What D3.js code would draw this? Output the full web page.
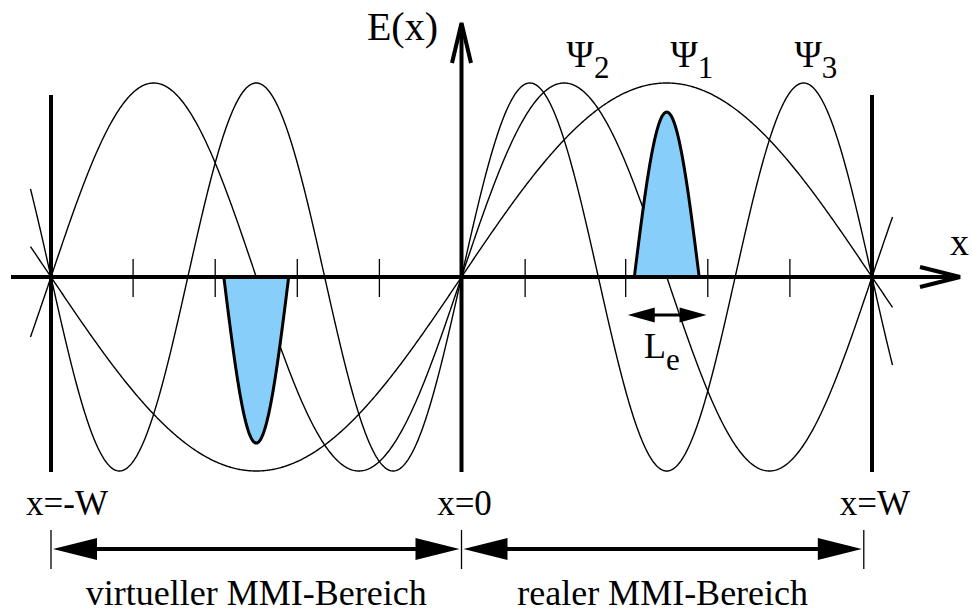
<!DOCTYPE html>
<html>
<head>
<meta charset="utf-8">
<script src="https://cdn.jsdelivr.net/npm/d3@7"></script>
<style>
  body { margin: 0; background: #fff; }
  svg { display: block; }
  text { font-family: "Liberation Serif", "Times New Roman", serif; fill: #000; }
</style>
</head>
<body>
<svg id="chart" width="972" height="612"></svg>
<script>
// mode orders of the field profiles Psi_n(x) = sin(n*pi*x/W), x in units of W
var modeOrders  = [2, 1, 3];
var modeLabels  = ["2", "1", "3"];
var modeLabelX  = [0.256, 0.509, 0.811];   // label start, units of W
var curveDomain = [-1.05, 1.05];            // curves run a bit past the walls

// tick marks on the x axis (units of W)
var axisTicks = [-0.8, -0.6, -0.4, -0.2, 0.155, 0.4, 0.6, 0.8];

// wall positions and their labels
var walls      = [-1, 0, 1];
var wallLabels = ["x=-W", "x=0", "x=W"];

// shaded self-image lobes: centre, half width, height
var lobeCentres = [-0.5, 0.5];
var lobeHeights = [-0.856, 0.85];
var lobeHalfW   = 0.079;

// effective length arrow
var leFrom = 0.405, leTo = 0.597, leY = -0.196;

// the two regions below the plot
var regionNames = ["virtueller MMI-Bereich", "realer MMI-Bereich"];
var regionFrom  = [-1, 0];
var regionTo    = [0, 0.98];

var svg = d3.select("#chart");

var x = d3.scaleLinear().domain([-1, 1]).range([51, 872]);
var y = d3.scaleLinear().domain([-1, 1]).range([471, 83]);

function tri(g, tipX, tipY, dir, len, half) {
  g.append("path")
    .attr("d", "M" + tipX + "," + tipY +
               "L" + (tipX - dir * len) + "," + (tipY - half) +
               "L" + (tipX - dir * len) + "," + (tipY + half) + "Z")
    .attr("fill", "#000");
}

// walls of the MMI section (thick verticals at -W and W)
svg.selectAll(".wall")
  .data([-1, 1])
  .enter().append("line")
    .attr("class", "wall")
    .attr("x1", function(d) { return x(d); })
    .attr("x2", function(d) { return x(d); })
    .attr("y1", 95)
    .attr("y2", 472)
    .attr("stroke", "#000")
    .attr("stroke-width", 4);

// mode curves
var line = d3.line()
    .x(function(d) { return x(d[0]); })
    .y(function(d) { return y(d[1]); })
    .curve(d3.curveLinear);

var samples = d3.range(curveDomain[0], curveDomain[1] + 1e-9, 0.0025);

svg.selectAll(".mode")
  .data(modeOrders)
  .enter().append("path")
    .attr("class", "mode")
    .attr("d", function(n) {
      return line(samples.map(function(t) { return [t, Math.sin(n * Math.PI * t)]; }));
    })
    .attr("fill", "none")
    .attr("stroke", "#000")
    .attr("stroke-width", 1.4);

// shaded lobes
svg.selectAll(".lobe")
  .data(lobeCentres)
  .enter().append("path")
    .attr("class", "lobe")
    .attr("d", function(c, i) {
      var pts = d3.range(-1, 1.0001, 0.02).map(function(u) {
        return [c + u * lobeHalfW, lobeHeights[i] * Math.cos(u * Math.PI / 2)];
      });
      return line(pts) + "Z";
    })
    .attr("fill", "#87cefa")
    .attr("stroke", "#000")
    .attr("stroke-width", 3)
    .attr("stroke-linejoin", "round");

// x axis
svg.append("line")
    .attr("x1", 11).attr("x2", 958)
    .attr("y1", y(0)).attr("y2", y(0))
    .attr("stroke", "#000").attr("stroke-width", 4);
svg.append("path")
    .attr("d", "M920," + (y(0) - 10) + "L960," + y(0) + "L920," + (y(0) + 10))
    .attr("fill", "none").attr("stroke", "#000").attr("stroke-width", 4);

svg.selectAll(".tick")
  .data(axisTicks)
  .enter().append("line")
    .attr("class", "tick")
    .attr("x1", function(d) { return x(d); })
    .attr("x2", function(d) { return x(d); })
    .attr("y1", y(0) - 18)
    .attr("y2", y(0) + 20)
    .attr("stroke", "#000").attr("stroke-width", 1.3);

// y axis
svg.append("line")
    .attr("x1", x(0)).attr("x2", x(0))
    .attr("y1", 25).attr("y2", 472)
    .attr("stroke", "#000").attr("stroke-width", 4);
svg.append("path")
    .attr("d", "M" + (x(0) - 9.5) + ",63L" + x(0) + ",23L" + (x(0) + 9.5) + ",63")
    .attr("fill", "none").attr("stroke", "#000").attr("stroke-width", 4);

svg.append("text")
    .attr("x", 438).attr("y", 40)
    .attr("text-anchor", "end")
    .style("font-size", "40px")
    .text("E(x)");

svg.append("text")
    .attr("x", 950).attr("y", 255)
    .style("font-size", "38px")
    .text("x");

// mode labels
var ml = svg.selectAll(".mlabel")
  .data(modeLabels)
  .enter().append("text")
    .attr("class", "mlabel")
    .attr("x", function(d, i) { return x(modeLabelX[i]); })
    .attr("y", 67)
    .style("font-size", "37px");
ml.append("tspan").text("\u03a8");
ml.append("tspan")
    .attr("dy", 11)
    .style("font-size", "31px")
    .text(function(d) { return d; });

// L_e arrow
var le = svg.append("g");
le.append("line")
    .attr("x1", x(leFrom) + 20).attr("x2", x(leTo) - 20)
    .attr("y1", y(leY)).attr("y2", y(leY))
    .attr("stroke", "#000").attr("stroke-width", 3);
tri(le, x(leFrom), y(leY), -1, 27, 7.5);
tri(le, x(leTo), y(leY), 1, 27, 7.5);

var lt = svg.append("text")
    .attr("x", 644).attr("y", 358)
    .style("font-size", "36px");
lt.append("tspan").text("L");
lt.append("tspan").attr("dy", 12).style("font-size", "31px").text("e");

// wall labels
var wallOffset = [16, 3, 3];
svg.selectAll(".wlabel")
  .data(wallLabels)
  .enter().append("text")
    .attr("class", "wlabel")
    .attr("x", function(d, i) { return x(walls[i]) + wallOffset[i]; })
    .attr("y", 515)
    .attr("text-anchor", "middle")
    .style("font-size", "35px")
    .text(function(d) { return d; });

// region arrows
var yr = 549;
svg.selectAll(".rtick")
  .data([regionFrom[0], regionTo[0], regionTo[1]])
  .enter().append("line")
    .attr("class", "rtick")
    .attr("x1", function(d) { return x(d); })
    .attr("x2", function(d) { return x(d); })
    .attr("y1", 530).attr("y2", 569)
    .attr("stroke", "#000").attr("stroke-width", 1.3);

regionNames.forEach(function(name, i) {
  var a = x(regionFrom[i]) + 2, b = x(regionTo[i]) - 2;
  var g = svg.append("g");
  g.append("line")
      .attr("x1", a + 30).attr("x2", b - 30)
      .attr("y1", yr).attr("y2", yr)
      .attr("stroke", "#000").attr("stroke-width", 4);
  tri(g, a, yr, -1, 44, 11);
  tri(g, b, yr, 1, 44, 11);
  svg.append("text")
      .attr("x", (x(regionFrom[i]) + x(regionTo[i])) / 2)
      .attr("y", 605)
      .attr("text-anchor", "middle")
      .style("font-size", "36px")
      .text(name);
});
</script>
</body>
</html>
